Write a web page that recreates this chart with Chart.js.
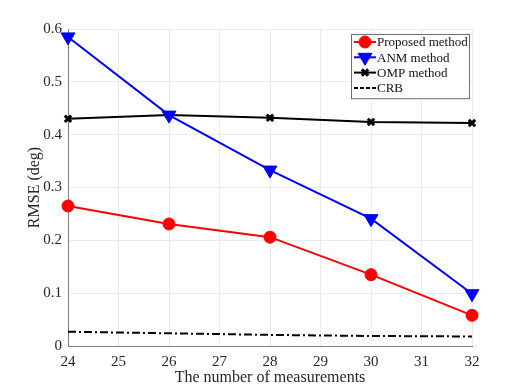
<!DOCTYPE html>
<html>
<head>
<meta charset="utf-8">
<script src="https://cdn.jsdelivr.net/npm/chart.js@4"></script>
<style>
  html, body { margin: 0; padding: 0; background: #fff; }
  #wrap { width: 526px; height: 389px; }
</style>
</head>
<body>
<div id="wrap"><canvas id="myChart" width="526" height="389"></canvas></div>
<script>
// values
var measurements = [24, 26, 28, 30, 32];
var proposed = [0.265, 0.231, 0.206, 0.135, 0.058];
var anm = [0.585, 0.437, 0.333, 0.241, 0.099];
var omp = [0.430, 0.437, 0.432, 0.424, 0.422];
var crb = [0.027, 0.024, 0.021, 0.019, 0.018];
var seriesNames = ["Proposed method", "ANM method", "OMP method", "CRB"];

var serif = "'Liberation Serif', 'DejaVu Serif', serif";

function pts(vals) {
    var out = [];
    for (var i = 0; i < measurements.length; i++) {
        out.push({ x: measurements[i], y: vals[i] });
    }
    return out;
}

// legend in a box, line sample + marker, like the matlab one
var boxLegend = {
    id: 'boxLegend',
    afterDraw: function(chart) {
        var ctx = chart.ctx;
        var area = chart.chartArea;
        var sets = chart.data.datasets;
        var w = 118, rowH = 15.3;
        var x0 = area.right - 3 - w, y0 = area.top + 5;
        var h = rowH * sets.length + 3;
        ctx.save();
        ctx.fillStyle = '#fff';
        ctx.fillRect(x0, y0, w, h);
        ctx.strokeStyle = '#6e6e6e';
        ctx.lineWidth = 1;
        ctx.strokeRect(x0 + 0.5, y0 + 0.5, w, h);
        for (var i = 0; i < sets.length; i++) {
            var ds = sets[i];
            var cy = y0 + 8 + i * rowH;
            ctx.strokeStyle = ds.borderColor;
            ctx.lineWidth = ds.borderWidth;
            ctx.setLineDash(ds.borderDash && ds.borderDash.length ? [4, 2] : []);
            ctx.beginPath();
            ctx.moveTo(x0 + 3, cy);
            ctx.lineTo(x0 + 25, cy);
            ctx.stroke();
            ctx.setLineDash([]);
            if (ds.pointRadius > 0) {
                ctx.fillStyle = ds.pointBackgroundColor;
                ctx.strokeStyle = ds.pointBorderColor;
                ctx.lineWidth = ds.pointBorderWidth || 1;
                Chart.helpers.drawPoint(ctx, {
                    pointStyle: ds.pointStyle,
                    rotation: ds.pointRotation || 0,
                    radius: ds.pointRadius,
                    borderWidth: ds.pointBorderWidth || 1
                }, x0 + 14, cy);
            }
            ctx.fillStyle = '#111';
            ctx.font = '13px ' + serif;
            ctx.textBaseline = 'middle';
            ctx.textAlign = 'left';
            ctx.fillText(seriesNames[i], x0 + 26, cy + 1);
        }
        ctx.restore();
    }
};

var ctx = document.getElementById('myChart').getContext('2d');
var chart = new Chart(ctx, {
    type: 'line',
    data: {
        datasets: [{
            label: seriesNames[0],
            data: pts(proposed),
            borderColor: '#ff0000',
            backgroundColor: '#ff0000',
            pointBackgroundColor: '#ff0000',
            pointBorderColor: '#ff0000',
            borderWidth: 2,
            pointStyle: 'circle',
            pointRadius: 6,
            pointBorderWidth: 1,
            clip: false
        }, {
            label: seriesNames[1],
            data: pts(anm),
            borderColor: '#0000ff',
            backgroundColor: '#0000ff',
            pointBackgroundColor: '#0000ff',
            pointBorderColor: '#0000ff',
            borderWidth: 2,
            pointStyle: 'triangle',
            pointRotation: 180,
            pointRadius: 8,
            pointBorderWidth: 1,
            clip: false
        }, {
            label: seriesNames[2],
            data: pts(omp),
            borderColor: '#000000',
            backgroundColor: '#000000',
            pointBackgroundColor: '#000000',
            pointBorderColor: '#000000',
            borderWidth: 2,
            pointStyle: 'crossRot',
            pointRadius: 4.5,
            pointBorderWidth: 3,
            clip: false
        }, {
            label: seriesNames[3],
            data: pts(crb),
            borderColor: '#000000',
            backgroundColor: '#000000',
            borderWidth: 2,
            borderDash: [8, 3, 2, 3],
            pointRadius: 0,
            clip: false
        }]
    },
    options: {
        responsive: false,
        animation: false,
        layout: { padding: { top: 29, right: 54, left: 0, bottom: 0 } },
        plugins: {
            legend: { display: false },
            tooltip: { enabled: false }
        },
        scales: {
            x: {
                type: 'linear',
                min: 24,
                max: 32,
                ticks: {
                    stepSize: 1,
                    color: '#262626',
                    font: { family: serif, size: 15 },
                    padding: 7
                },
                grid: { color: '#ebebeb', drawTicks: false },
                border: { color: '#7f7f7f', width: 1 },
                title: {
                    display: true,
                    text: 'The number of measurements',
                    color: '#262626',
                    font: { family: serif, size: 16 },
                    padding: { top: 0, bottom: 2 }
                },
                afterFit: function(scale) { scale.height = 43; }
            },
            y: {
                min: 0,
                max: 0.6,
                ticks: {
                    stepSize: 0.1,
                    color: '#262626',
                    font: { family: serif, size: 15 },
                    padding: 6
                },
                grid: { color: '#ebebeb', drawTicks: false },
                border: { color: '#7f7f7f', width: 1 },
                title: {
                    display: true,
                    text: 'RMSE (deg)',
                    color: '#262626',
                    font: { family: serif, size: 16 },
                    padding: { top: 25, bottom: 0 }
                },
                afterFit: function(scale) { scale.width = 68; }
            }
        }
    },
    plugins: [boxLegend]
});
</script>
</body>
</html>
